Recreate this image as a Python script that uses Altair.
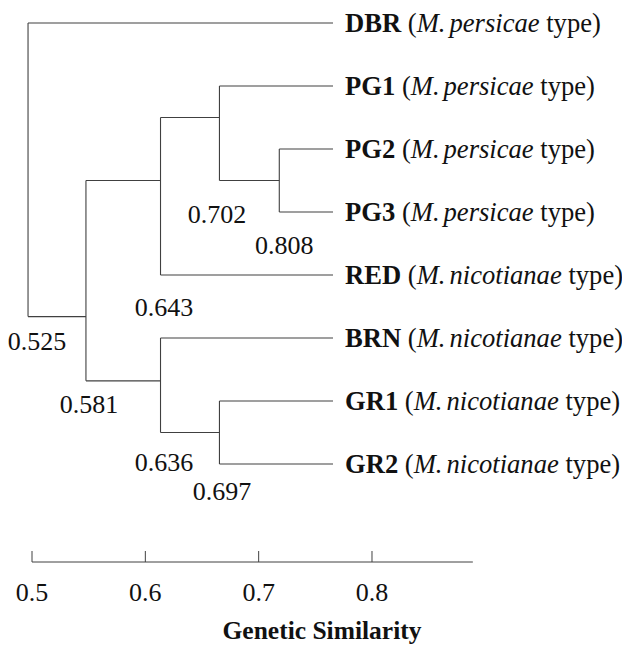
import altair as alt
import pandas as pd

# ---------------- data ----------------
leaf_codes = ["DBR", "PG1", "PG2", "PG3", "RED", "BRN", "GR1", "GR2"]
leaf_species = ["persicae", "persicae", "persicae", "persicae",
                "nicotianae", "nicotianae", "nicotianae", "nicotianae"]

node_ids = ["n525", "n581", "n643", "n702", "n808", "n636", "n697"]
node_labels = ["0.525", "0.581", "0.643", "0.702", "0.808", "0.636", "0.697"]
# where each junction is drawn against the similarity axis
node_drawn_x = [0.4965, 0.5476, 0.6134, 0.6654, 0.7182, 0.6134, 0.6654]
node_children = [["DBR", "n581"], ["n643", "n636"], ["n702", "RED"],
                 ["PG1", "n808"], ["PG2", "PG3"], ["BRN", "n697"], ["GR1", "GR2"]]
# row (leaf index units) at which each junction joins its parent
node_attach_row = [0.0, 4.66, 2.5, 1.5, 2.5, 5.68, 6.5]
leaf_end_x = 0.7656

axis_ticks = [0.5, 0.6, 0.7, 0.8]
axis_end = 0.889
x_title = "Genetic Similarity"

# ---------------- layout / style ----------------
W, H = 614, 638
PX = 1133.3            # pixels per unit similarity
X0_PX = 24             # plot px of 0.5
ROW_PX = 63.0
TOP_PX = 15.0
FONT = "Liberation Serif"
FS = 26
FS_LEAF = 26.6
LINE = "#404040"
INK = "#111111"

xdom = [0.5 - X0_PX / PX, 0.5 + (W - X0_PX) / PX]
ydom = [-TOP_PX / ROW_PX, (H - TOP_PX) / ROW_PX]
xs = alt.Scale(domain=xdom, range=[0, W], nice=False, zero=False)
ys = alt.Scale(domain=ydom, range=[0, H], nice=False, zero=False)

# node label offsets (px): dx from junction, dy from junction's lowest line to baseline
label_dx = [9, 3, 3.5, -2.5, 5, 3.5, 2.5]
label_dy = [33, 32, 41, 42, 42, 38, 36]

pos_x = {c: leaf_end_x for c in leaf_codes}
pos_row = {c: i for i, c in enumerate(leaf_codes)}
for nid, nx, nr in zip(node_ids, node_drawn_x, node_attach_row):
    pos_x[nid] = nx
    pos_row[nid] = nr

segs = []
labs = []
for nid, lab, nx, kids, dx, dy in zip(node_ids, node_labels, node_drawn_x,
                                       node_children, label_dx, label_dy):
    rows = [pos_row[k] for k in kids]
    segs.append({"x": nx, "x2": nx, "y": min(rows), "y2": max(rows)})
    for k in kids:
        segs.append({"x": nx, "x2": pos_x[k], "y": pos_row[k], "y2": pos_row[k]})
    labs.append({"x": nx + dx / PX, "y": max(rows) + dy / ROW_PX, "t": lab})
seg_df = pd.DataFrame(segs)
lab_df = pd.DataFrame(labs)

# Times-compatible advance widths (per em)
BOLD = {"D": .722, "B": .667, "R": .722, "P": .611, "G": .778, "E": .667,
        "N": .722, "1": .5, "2": .5, "3": .5}
REG = {" ": .25, "(": .333, ")": .333, "t": .278, "y": .5, "p": .5, "e": .444}
ITAL = {"M": .833, ".": .25, " ": .25, "p": .5, "e": .444, "r": .389, "s": .389,
        "i": .278, "c": .444, "a": .5, "n": .5, "o": .5, "t": .278}


def w(s, table):
    return sum(table.get(ch, .5) for ch in s) * FS_LEAF


GAP = 12
THIN = 0.15 * FS_LEAF
bold_rows, reg_rows, ital_rows = [], [], []
for i, (code, sp) in enumerate(zip(leaf_codes, leaf_species)):
    off = GAP
    bold_rows.append({"x": leaf_end_x + off / PX, "y": i, "t": code})
    off += w(code, BOLD) + w(" ", REG)
    reg_rows.append({"x": leaf_end_x + off / PX, "y": i, "t": "("})
    off += w("(", REG)
    ital_rows.append({"x": leaf_end_x + off / PX, "y": i, "t": "M."})
    off += w("M.", ITAL) + THIN
    ital_rows.append({"x": leaf_end_x + off / PX, "y": i, "t": sp})
    off += w(sp, ITAL) + w(" ", REG)
    reg_rows.append({"x": leaf_end_x + off / PX, "y": i, "t": "type)"})

AXIS_Y = 554
tick_df = pd.DataFrame({"x": axis_ticks, "t": [str(v) for v in axis_ticks]})
axis_df = pd.DataFrame({"x": [axis_ticks[0]], "x2": [axis_end]})

X = lambda f="x": alt.X(f"{f}:Q", scale=xs, axis=None)
Y = lambda f="y": alt.Y(f"{f}:Q", scale=ys, axis=None)

tree = alt.Chart(seg_df).mark_rule(color=LINE, strokeWidth=1.1).encode(
    x=X(), x2="x2:Q", y=Y(), y2="y2:Q")

node_text = alt.Chart(lab_df).mark_text(
    font=FONT, fontSize=FS, color=INK, align="center", baseline="alphabetic"
).encode(x=X(), y=Y(), text="t:N")


def leaf_layer(rows, **kw):
    return alt.Chart(pd.DataFrame(rows)).mark_text(
        font=FONT, fontSize=FS_LEAF, color=INK, align="left", baseline="alphabetic",
        dy=9, **kw).encode(x=X(), y=Y(), text="t:N")


bold_layer = leaf_layer(bold_rows, fontWeight="bold")
reg_layer = leaf_layer(reg_rows)
ital_layer = leaf_layer(ital_rows, fontStyle="italic")

axis_line = alt.Chart(axis_df).mark_rule(color=LINE, strokeWidth=1).encode(
    x=X(), x2="x2:Q", y=alt.value(AXIS_Y))
axis_ticks_l = alt.Chart(tick_df).mark_rule(color=LINE, strokeWidth=1).encode(
    x=X(), y=alt.value(AXIS_Y - 11), y2=alt.value(AXIS_Y))
axis_labels = alt.Chart(tick_df).mark_text(
    font=FONT, fontSize=FS, color=INK, align="center", baseline="alphabetic"
).encode(x=X(), y=alt.value(AXIS_Y + 39), text="t:N")
title = alt.Chart(pd.DataFrame({"t": [x_title]})).mark_text(
    font=FONT, fontSize=25.5, fontWeight="bold", color=INK, align="center",
    baseline="alphabetic").encode(x=alt.value(314), y=alt.value(631), text="t:N")

chart = alt.layer(
    tree, node_text, bold_layer, reg_layer, ital_layer,
    axis_line, axis_ticks_l, axis_labels, title
).properties(
    width=W, height=H, padding=0, autosize=alt.AutoSizeParams(type="none"),
    background="white"
).configure_view(stroke=None)

chart.save("out.html", embed_options={"renderer": "svg", "actions": False})
